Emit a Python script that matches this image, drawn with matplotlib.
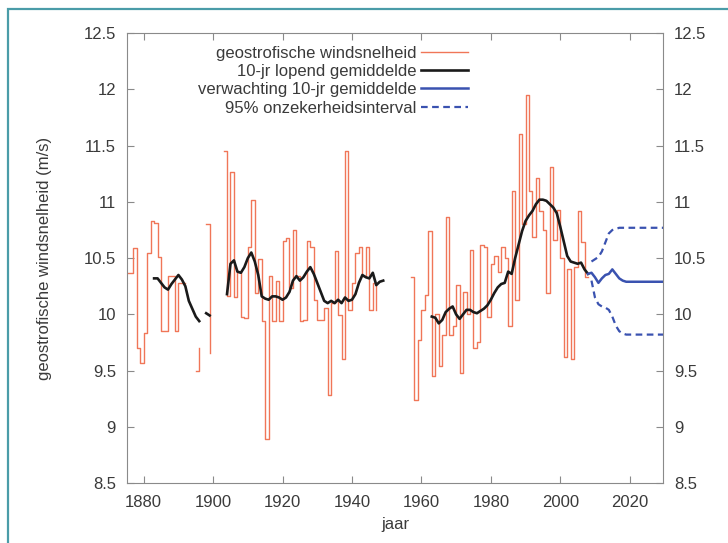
import numpy as np
import matplotlib
matplotlib.use('Agg')
import matplotlib.pyplot as plt
from matplotlib.lines import Line2D
from matplotlib.patches import Rectangle

plt.rcParams['font.family'] = ['Liberation Sans', 'DejaVu Sans']

##########################
### DATA
##########################

nan = np.nan

# annual geostrophic wind speed, value holds from year to year+1
wind_years = np.arange(1875, 2009)
wind_vals = [
    10.37, 10.37, 10.59, 9.70, 9.57, 9.83, 10.55, 10.83, 10.81, 10.51,   # 1875-1884
    9.85, 9.85, 10.34, 10.34, 9.85, 10.28, 10.28, 10.28, nan, nan,        # 1885-1894
    9.50, 9.70, nan, 10.80, 9.66, nan, nan, nan, 11.45, 10.16,            # 1895-1904
    11.27, 10.15, 10.38, 9.98, 9.97, 10.60, 11.02, 10.19, 10.49, 9.94,    # 1905-1914
    8.89, 10.34, 9.94, 10.30, 9.94, 10.65, 10.68, 10.23, 10.75, 10.34,    # 1915-1924
    9.94, 9.95, 10.65, 10.60, 10.13, 9.95, 9.95, 10.06, 9.28, 10.10,      # 1925-1934
    10.56, 9.99, 9.60, 11.45, 10.04, 10.28, 10.55, 10.60, 10.34, 10.60,   # 1935-1944
    10.04, 10.28, 10.04, nan, nan, nan, nan, nan, nan, nan,               # 1945-1954
    nan, nan, 10.33, 9.24, 9.77, 10.04, 10.17, 10.74, 9.45, 10.00,        # 1955-1964
    9.54, 9.82, 10.87, 9.82, 9.90, 10.26, 9.48, 10.20, 10.00, 10.57,      # 1965-1974
    9.70, 9.75, 10.62, 10.60, 9.98, 10.45, 10.52, 10.38, 10.60, 10.50,    # 1975-1984
    9.90, 11.10, 10.13, 11.60, 10.80, 11.95, 11.10, 10.69, 11.21, 10.92,  # 1985-1994
    10.75, 10.19, 11.31, 10.66, 10.93, 10.50, 9.62, 10.40, 9.60, 10.42,   # 1995-2004
    10.92, 10.64, 10.33, 10.33,                                           # 2005-2008
]

# 10-year running mean
mean_years = np.arange(1883, 2009)
mean_vals = [
    10.32, 10.32, 10.28, 10.24, 10.22, 10.27, 10.31, 10.35, 10.31, 10.25,  # 1883-1892
    10.12, 10.05, 9.98, 9.94, nan, 10.01, 9.99, nan, nan, nan,             # 1893-1902
    nan, 10.18, 10.45, 10.48, 10.38, 10.37, 10.42, 10.50, 10.55, 10.47,    # 1903-1912
    10.35, 10.16, 10.14, 10.13, 10.16, 10.16, 10.15, 10.13, 10.15, 10.20,  # 1913-1922
    10.30, 10.34, 10.30, 10.33, 10.38, 10.42, 10.36, 10.28, 10.20, 10.12,  # 1923-1932
    10.10, 10.12, 10.10, 10.13, 10.10, 10.15, 10.12, 10.13, 10.18, 10.28,  # 1933-1942
    10.35, 10.33, 10.32, 10.37, 10.26, 10.29, 10.30, nan, nan, nan,        # 1943-1952
    nan, nan, nan, nan, nan, nan, nan, nan, nan, nan,                      # 1953-1962
    9.98, 9.97, 9.92, 9.95, 10.02, 10.05, 10.07, 10.00, 9.96, 10.00,       # 1963-1972
    10.04, 10.04, 10.02, 10.01, 10.03, 10.05, 10.08, 10.13, 10.19, 10.24,  # 1973-1982
    10.27, 10.28, 10.38, 10.36, 10.50, 10.62, 10.74, 10.83, 10.88, 10.92,  # 1983-1992
    10.98, 11.02, 11.02, 11.01, 10.98, 10.95, 10.90, 10.78, 10.65, 10.52,  # 1993-2002
    10.47, 10.46, 10.45, 10.46, 10.40, 10.36,                              # 2003-2008
]

# forecast of the 10-year mean with 95% interval
fc_years = np.arange(2008, 2031)
fc_mean = [10.36, 10.37, 10.33, 10.28, 10.32, 10.35, 10.36, 10.40, 10.36, 10.32,
           10.30, 10.29, 10.29, 10.29, 10.29, 10.29, 10.29, 10.29, 10.29, 10.29,
           10.29, 10.29, 10.29]
fc_upper = [nan, 10.47, 10.49, 10.51, 10.56, 10.64, 10.72, 10.75, 10.76, 10.77,
            10.77, 10.77, 10.77, 10.77, 10.77, 10.77, 10.77, 10.77, 10.77, 10.77,
            10.77, 10.77, 10.77]
fc_lower = [nan, 10.30, 10.15, 10.09, 10.07, 10.06, 10.04, 9.98, 9.90, 9.85,
            9.83, 9.82, 9.82, 9.82, 9.82, 9.82, 9.82, 9.82, 9.82, 9.82,
            9.82, 9.82, 9.82]

x_ticks = [1880, 1900, 1920, 1940, 1960, 1980, 2000, 2020]
y_ticks = [8.5, 9, 9.5, 10, 10.5, 11, 11.5, 12, 12.5]
y_ticklabels = ['8.5', '9', '9.5', '10', '10.5', '11', '11.5', '12', '12.5']

labels = ['geostrofische windsnelheid', '10-jr lopend gemiddelde',
          'verwachting 10-jr gemiddelde', '95% onzekerheidsinterval']

##########################
### STYLE
##########################

red = '#f07658'
blue = '#3a52b0'
grey = '#8a8a8a'
txt = '#3a3a3a'
fs = 12


def runs(x, y):
    """split a series into pieces without gaps"""
    y = np.asarray(y, dtype=float)
    ok = ~np.isnan(y)
    idx = np.flatnonzero(ok)
    if len(idx) == 0:
        return []
    breaks = np.flatnonzero(np.diff(idx) > 1)
    starts = np.r_[0, breaks + 1]
    ends = np.r_[breaks, len(idx) - 1]
    return [(x[idx[s]:idx[e] + 1], y[idx[s]:idx[e] + 1]) for s, e in zip(starts, ends)]


fig = plt.figure(figsize=(7.28, 5.43), dpi=100)
ax = fig.add_axes([0.1745, 0.1105, 0.7362, 0.8282])

for xs, ys in runs(wind_years, wind_vals):
    ax.step(xs, ys, where='post', color=red, lw=1.0)
for xs, ys in runs(mean_years, mean_vals):
    ax.plot(xs, ys, color='#1a1a1a', lw=1.9)
ax.plot(fc_years, fc_mean, color=blue, lw=1.8)
ax.plot(fc_years, fc_upper, color=blue, lw=1.6, ls=(0, (3, 2)))
ax.plot(fc_years, fc_lower, color=blue, lw=1.6, ls=(0, (3, 2)))

ax.set_xlim(1875.2, 2029.6)
ax.set_ylim(8.5, 12.5)
ax.set_xticks(x_ticks)
ax.set_yticks(y_ticks)
ax.set_yticklabels(y_ticklabels)
ax.tick_params(direction='in', top=True, length=5, color=grey,
               labelsize=fs, labelcolor=txt)
ax.tick_params(axis='x', pad=9)
ax.tick_params(axis='y', pad=8)
for sp in ax.spines.values():
    sp.set_color(grey)

ax2 = ax.twinx()
ax2.set_ylim(8.5, 12.5)
ax2.set_yticks(y_ticks)
ax2.set_yticklabels(y_ticklabels)
ax2.tick_params(direction='in', length=5, color=grey, labelsize=fs,
                labelcolor=txt, pad=8)
for sp in ax2.spines.values():
    sp.set_visible(False)

ax.set_ylabel('geostrofische windsnelheid (m/s)', fontsize=fs, color=txt)
ax.yaxis.set_label_coords(-0.14, 0.5)
ax.set_xlabel('jaar', fontsize=fs, color=txt)
ax.xaxis.set_label_coords(0.5, -0.075)

handles = [Line2D([], [], color=red, lw=1.0),
           Line2D([], [], color='#1a1a1a', lw=1.9),
           Line2D([], [], color=blue, lw=1.8),
           Line2D([], [], color=blue, lw=1.6, ls=(0, (3, 2)))]
leg = ax.legend(handles, labels, loc='upper right', bbox_to_anchor=(0.655, 0.995),
                markerfirst=False, frameon=False, fontsize=fs,
                handlelength=2.8, handletextpad=0.3, labelspacing=0.2,
                borderaxespad=0.2)
for t in leg.get_texts():
    t.set_color(txt)

# teal frame of the source picture
fig.patches.append(Rectangle((8 / 728, -0.05), 2.0, 1.05 - 9 / 543,
                             transform=fig.transFigure, fill=False,
                             edgecolor='#4a9ca8', lw=1.6))

plt.savefig('out.png', dpi=100)
